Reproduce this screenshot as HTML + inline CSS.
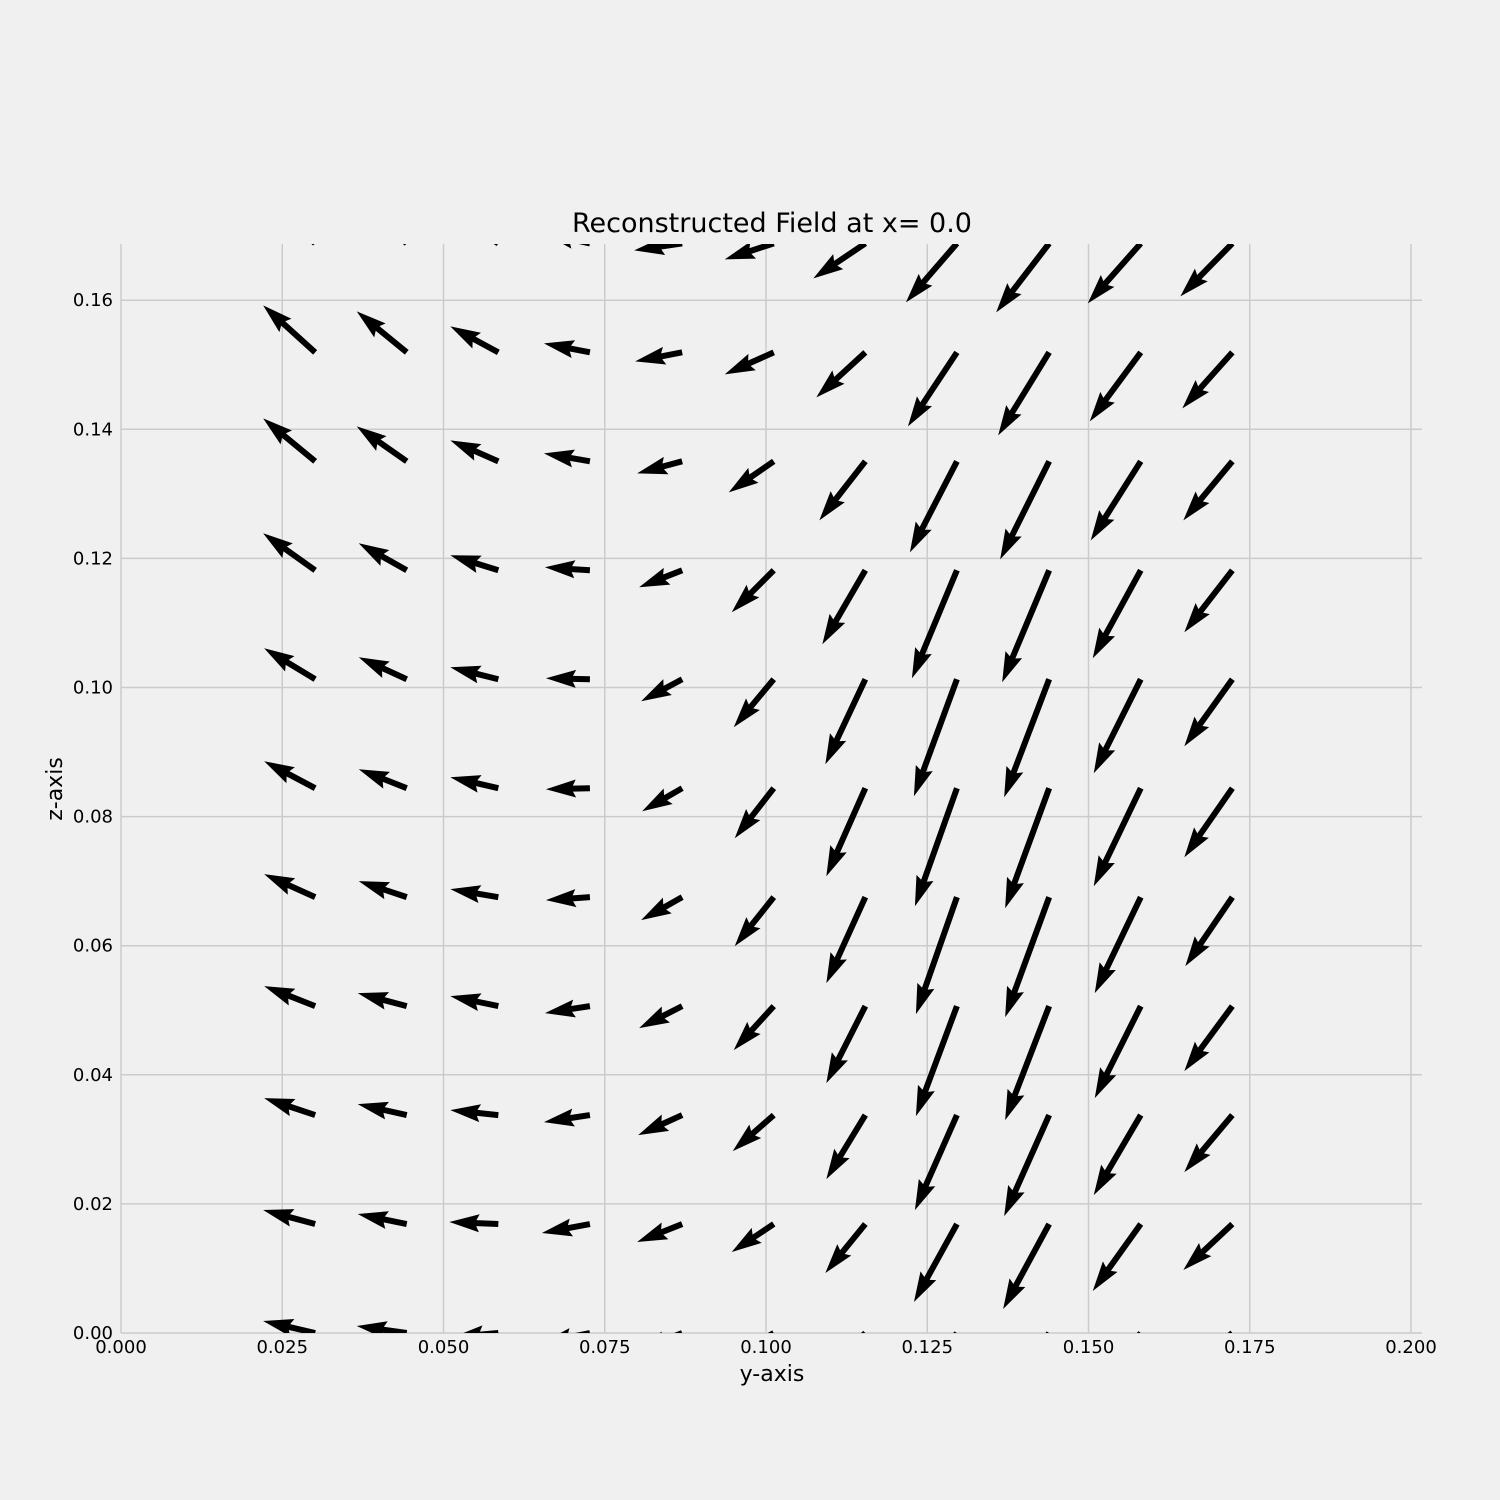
<!DOCTYPE html>
<html><head><meta charset="utf-8"><style>
html,body{margin:0;padding:0;background:#f0f0f0;}
svg{display:block;font-family:"DejaVu Sans","Liberation Sans",sans-serif;}
</style></head><body>
<svg id="chart" width="1500" height="1500" viewBox="0 0 1500 1500" xmlns="http://www.w3.org/2000/svg">
<rect width="1500" height="1500" fill="#f0f0f0"/>
<defs><clipPath id="clip"><rect x="121" y="244" width="1301" height="1089"/></clipPath></defs>
<g id="grid"></g>
<g id="arrows" clip-path="url(#clip)"></g>
<g id="ticks"></g>
<text x="772" y="232" font-size="27" text-anchor="middle" fill="#000">Reconstructed Field at x= 0.0</text>
<text x="772" y="1381" font-size="22" text-anchor="middle" fill="#000">y-axis</text>
<text x="0" y="0" font-size="22" text-anchor="middle" fill="#000" transform="translate(62,789) rotate(-90)">z-axis</text>
</svg>
<script>
const xTicks = [0, 0.025, 0.05, 0.075, 0.1, 0.125, 0.15, 0.175, 0.2];
const xTickLabels = ["0.000","0.025","0.050","0.075","0.100","0.125","0.150","0.175","0.200"];
const yTicks = [0, 0.02, 0.04, 0.06, 0.08, 0.10, 0.12, 0.14, 0.16];
const yTickLabels = ["0.00","0.02","0.04","0.06","0.08","0.10","0.12","0.14","0.16"];
const gridY = [0.0301,0.0443,0.0585,0.0727,0.0870,0.1012,0.1154,0.1296,0.1439,0.1581,0.1723];
const gridZ = [0,0.01688,0.03376,0.05064,0.06752,0.0844,0.10128,0.11816,0.13504,0.15192,0.1688];
// u (horizontal) and v (vertical, up positive) components, rows from z=0 upward
const U = [
[-0.52,-0.50,-0.45,-0.48,-0.45,-0.43,-0.41,-0.43,-0.46,-0.48,-0.49],
[-0.52,-0.49,-0.49,-0.48,-0.45,-0.42,-0.40,-0.43,-0.46,-0.48,-0.49],
[-0.51,-0.49,-0.48,-0.46,-0.44,-0.41,-0.39,-0.42,-0.45,-0.47,-0.48],
[-0.51,-0.49,-0.48,-0.45,-0.43,-0.40,-0.39,-0.41,-0.44,-0.46,-0.48],
[-0.51,-0.48,-0.48,-0.44,-0.41,-0.39,-0.39,-0.41,-0.44,-0.46,-0.47],
[-0.51,-0.48,-0.48,-0.44,-0.40,-0.39,-0.39,-0.42,-0.44,-0.47,-0.48],
[-0.51,-0.48,-0.48,-0.44,-0.41,-0.40,-0.40,-0.43,-0.45,-0.47,-0.48],
[-0.52,-0.48,-0.48,-0.45,-0.43,-0.42,-0.43,-0.45,-0.47,-0.48,-0.48],
[-0.52,-0.50,-0.48,-0.46,-0.45,-0.45,-0.46,-0.47,-0.49,-0.50,-0.49],
[-0.52,-0.50,-0.48,-0.46,-0.47,-0.49,-0.49,-0.49,-0.51,-0.51,-0.50],
[-0.52,-0.50,-0.48,-0.46,-0.48,-0.49,-0.52,-0.51,-0.53,-0.53,-0.52]];
const V = [
[0.12,0.07,-0.04,-0.10,-0.18,-0.25,-0.40,-0.65,-0.72,-0.58,-0.40],
[0.14,0.10,0.02,-0.09,-0.18,-0.28,-0.49,-0.78,-0.85,-0.67,-0.46],
[0.17,0.11,0.05,-0.07,-0.20,-0.36,-0.64,-0.95,-1.01,-0.80,-0.57],
[0.20,0.13,0.10,-0.07,-0.22,-0.44,-0.77,-1.10,-1.14,-0.92,-0.65],
[0.23,0.16,0.08,-0.03,-0.23,-0.49,-0.86,-1.17,-1.20,-0.96,-0.69],
[0.27,0.19,0.11,-0.01,-0.23,-0.50,-0.88,-1.18,-1.20,-0.98,-0.69],
[0.31,0.22,0.12,0.01,-0.22,-0.48,-0.85,-1.17,-1.18,-0.94,-0.67],
[0.37,0.27,0.15,0.03,-0.17,-0.42,-0.74,-1.08,-1.12,-0.88,-0.62],
[0.43,0.35,0.21,0.08,-0.12,-0.31,-0.59,-0.91,-0.98,-0.79,-0.59],
[0.47,0.41,0.26,0.09,-0.09,-0.22,-0.45,-0.74,-0.83,-0.69,-0.56],
[0.50,0.45,0.30,0.10,-0.07,-0.16,-0.35,-0.59,-0.69,-0.60,-0.53]];
const SCALE = 100; // px per unit of vector
const NS="http://www.w3.org/2000/svg";
const X0=121, X1=1422, Y0=1333, Y1=244;
const xs = v => X0 + v*6450;
const ys = v => Y0 - v*6455;
const grid=document.getElementById('grid'), ticks=document.getElementById('ticks'), arrows=document.getElementById('arrows');
function mk(tag, attrs, parent){const e=document.createElementNS(NS,tag);for(const k in attrs)e.setAttribute(k,attrs[k]);parent.appendChild(e);return e;}
xTicks.forEach((t,i)=>{
  const l=mk('line',{x1:xs(t),x2:xs(t),y1:Y1,y2:Y0,stroke:'#cbcbcb','stroke-width':1.5},grid);
  
  
  const tx=mk('text',{x:xs(t),y:1353,'font-size':18,'text-anchor':'middle',fill:'#000'},ticks);
  tx.textContent=xTickLabels[i];
  
  
});
yTicks.forEach((t,i)=>{
  const l=mk('line',{x1:X0,x2:X1,y1:ys(t),y2:ys(t),stroke:'#cbcbcb','stroke-width':1.5},grid);
  
  
  const tx=mk('text',{x:113,y:ys(t)+6,'font-size':18,'text-anchor':'end',fill:'#000'},ticks);
  tx.textContent=yTickLabels[i];
  
  
});
for(let j=0;j<gridZ.length;j++){
  for(let i=0;i<gridY.length;i++){
    const dx=U[j][i]*SCALE, dy=-V[j][i]*SCALE;
    const L=Math.hypot(dx,dy), a=Math.atan2(dy,dx)*180/Math.PI;
    const pts=[[0,-3],[L-27,-3],[L-30,-9],[L,0],[L-30,9],[L-27,3],[0,3]].map(p=>p.join(',')).join(' ');
    const p=mk('polygon',{points:pts,fill:'#000',transform:`translate(${xs(gridY[i])},${ys(gridZ[j])}) rotate(${a})`},arrows);
    
    
  }
}
</script>
</body></html>
